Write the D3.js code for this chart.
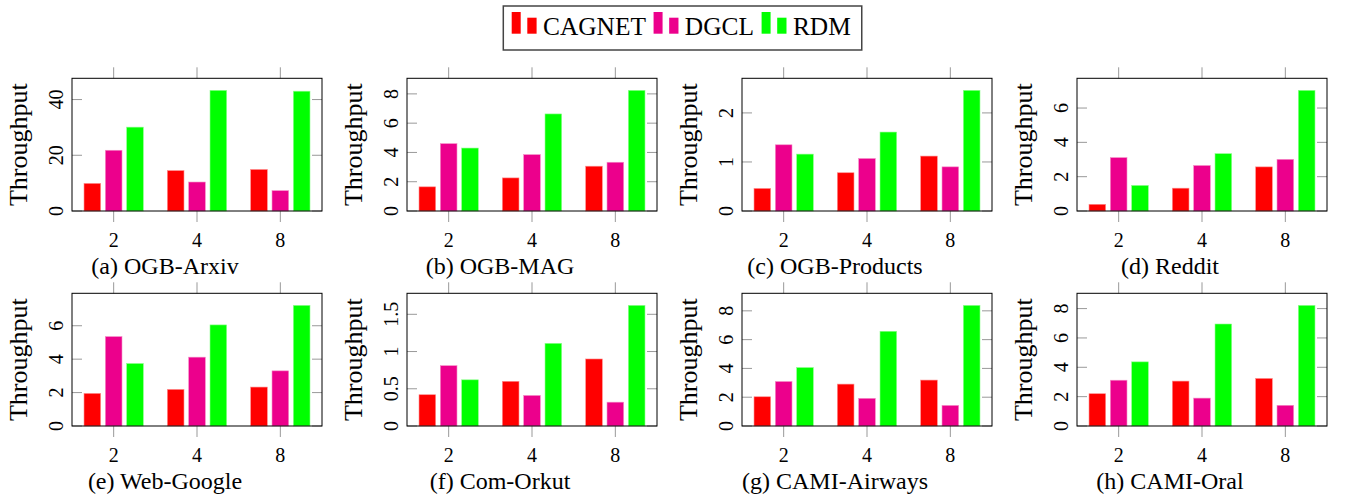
<!DOCTYPE html>
<html>
<head>
<meta charset="utf-8">
<script src="https://cdn.jsdelivr.net/npm/d3@7"></script>
<style>
  html, body { margin: 0; padding: 0; background: #fff; }
  svg { display: block; font-family: "Liberation Serif", "Times New Roman", serif; }
</style>
</head>
<body>
<svg id="canvas" width="1349" height="500"></svg>
<script>
// categories (number of GPUs) and series
const categories = ["2", "4", "8"];
const series = ["CAGNET", "DGCL", "RDM"];
const colors = ["#ff0000", "#ec008c", "#00ff00"];
const strokes = ["#ff8c8c", "#f58cc6", "#8cff8c"];

const captions = ["(a) OGB-Arxiv", "(b) OGB-MAG", "(c) OGB-Products", "(d) Reddit",
                  "(e) Web-Google", "(f) Com-Orkut", "(g) CAMI-Airways", "(h) CAMI-Oral"];

// throughput per dataset: [CAGNET, DGCL, RDM] x [2, 4, 8]
const arxiv    = [[9.9, 14.5, 14.9], [21.8, 10.4, 7.3], [30.1, 43.3, 43.0]];
const mag      = [[1.65, 2.26, 3.06], [4.6, 3.85, 3.33], [4.3, 6.63, 8.24]];
const products = [[0.46, 0.78, 1.12], [1.35, 1.07, 0.9], [1.16, 1.61, 2.46]];
const reddit   = [[0.39, 1.33, 2.57], [3.11, 2.65, 3.01], [1.49, 3.34, 7.03]];
const google   = [[1.95, 2.19, 2.33], [5.35, 4.12, 3.30], [3.74, 6.05, 7.22]];
const orkut    = [[0.42, 0.60, 0.90], [0.81, 0.41, 0.32], [0.62, 1.11, 1.62]];
const airways  = [[2.03, 2.91, 3.19], [3.09, 1.92, 1.43], [4.06, 6.58, 8.38]];
const oral     = [[2.2, 3.06, 3.24], [3.12, 1.9, 1.41], [4.37, 6.95, 8.22]];
const panels = [arxiv, mag, products, reddit, google, orkut, airways, oral];

// y tick labels per panel
const yTicks = [
  [0, 20, 40], [0, 2, 4, 6, 8], [0, 1, 2], [0, 2, 4, 6],
  [0, 2, 4, 6], [0, 0.5, 1, 1.5], [0, 2, 4, 6, 8], [0, 2, 4, 6, 8]
];

const svg = d3.select("#canvas");

const boxW = 250, boxH = 132.7;
const colStep = 335, rowStep = 215;
const left0 = 72, top0 = 78.3;

const x = d3.scalePoint().domain(categories).range([0, boxW]).padding(0.5);
const xs = d3.scaleBand().domain(series).range([-32, 32]).paddingInner(0.22).paddingOuter(0.11);

panels.forEach((vals, p) => {
    const col = p % 4, row = Math.floor(p / 4);
    const g = svg.append("g")
        .attr("transform", `translate(${left0 + col * colStep}, ${top0 + row * rowStep})`);

    // pgfplots style: upper limit enlarged by 10%
    const ymax = d3.max(vals.flat()) * 1.1;
    const y = d3.scaleLinear().domain([0, ymax]).range([boxH, 0]);

    // bars
    series.forEach((s, si) => {
        g.selectAll(null)
            .data(vals[si])
            .join("rect")
            .attr("x", (d, i) => x(categories[i]) + xs(s))
            .attr("y", d => y(d))
            .attr("width", xs.bandwidth())
            .attr("height", d => boxH - y(d))
            .attr("fill", colors[si])
            .attr("stroke", strokes[si])
            .attr("stroke-width", 0.6);
    });

    // x ticks outside, top and bottom
    categories.forEach(c => {
        g.append("line").attr("x1", x(c)).attr("x2", x(c))
            .attr("y1", boxH).attr("y2", boxH + 11)
            .attr("stroke", "#999").attr("stroke-width", 1);
        g.append("line").attr("x1", x(c)).attr("x2", x(c))
            .attr("y1", 0).attr("y2", -11)
            .attr("stroke", "#999").attr("stroke-width", 1);
        g.append("text")
            .attr("x", x(c)).attr("y", boxH + 36)
            .attr("text-anchor", "middle")
            .attr("font-size", 20)
            .text(c);
    });

    // y ticks inside, left and right
    yTicks[p].forEach(t => {
        g.append("line").attr("x1", 0).attr("x2", 10)
            .attr("y1", y(t)).attr("y2", y(t))
            .attr("stroke", "#999").attr("stroke-width", 1);
        g.append("line").attr("x1", boxW).attr("x2", boxW - 10)
            .attr("y1", y(t)).attr("y2", y(t))
            .attr("stroke", "#999").attr("stroke-width", 1);
        g.append("text")
            .attr("transform", `translate(-8.7,${y(t)}) rotate(-90)`)
            .attr("text-anchor", "middle")
            .attr("font-size", 20)
            .text(t);
    });

    // frame
    g.append("rect")
        .attr("width", boxW).attr("height", boxH)
        .attr("fill", "none").attr("stroke", "#000").attr("stroke-width", 1);

    // y label
    g.append("text")
        .attr("transform", `translate(-45.5,${boxH / 2}) rotate(-90)`)
        .attr("text-anchor", "middle")
        .attr("font-size", 26)
        .text("Throughput");

    // caption, centered on the subfigure (label + axis)
    g.append("text")
        .attr("x", (-64 + boxW) / 2)
        .attr("y", boxH + 63)
        .attr("text-anchor", "middle")
        .attr("font-size", 24)
        .text(captions[p]);
});

// legend
const legend = svg.append("g");
const lx0 = 511.7, ly = 35;
let cx = lx0;
series.forEach((s, i) => {
    legend.append("rect").attr("x", cx).attr("y", ly - 23).attr("width", 9).attr("height", 21.7)
        .attr("fill", colors[i]);
    legend.append("rect").attr("x", cx + 15.6).attr("y", ly - 17.3).attr("width", 9.3).attr("height", 16)
        .attr("fill", colors[i]);
    const t = legend.append("text")
        .attr("x", cx + 31.3).attr("y", ly)
        .attr("font-size", 25.4)
        .text(s);
    cx = cx + 31.3 + t.node().getComputedTextLength() + 7.6;
});
legend.insert("rect", ":first-child")
    .attr("x", 503.3).attr("y", 6)
    .attr("width", cx - 7.6 - 503.3 + 11).attr("height", 44)
    .attr("fill", "#fff").attr("stroke", "#444").attr("stroke-width", 1.5);
</script>
</body>
</html>
